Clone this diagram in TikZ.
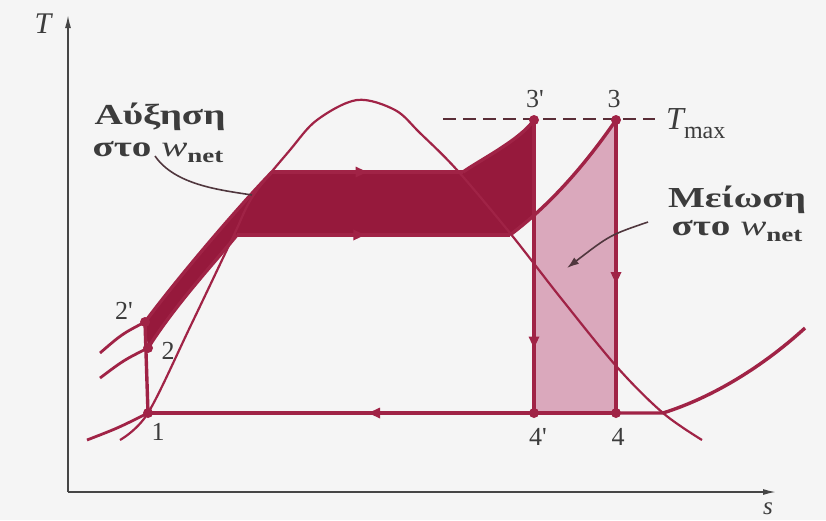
\documentclass[tikz,border=0pt]{standalone}
\usepackage{fontspec}
\setmainfont{Liberation Serif}
\usetikzlibrary{arrows.meta,decorations.markings}
\definecolor{bg}{RGB}{245,245,245}
\definecolor{cyc}{RGB}{160,35,70}
\definecolor{darkfill}{RGB}{150,25,60}
\definecolor{lightfill}{RGB}{218,168,188}
\definecolor{axiscol}{RGB}{70,70,70}
\definecolor{txt}{RGB}{60,60,60}
\definecolor{dashcol}{RGB}{90,45,55}
\tikzset{
  cycline/.style={draw=cyc, line width=3.4pt},
  domeline/.style={draw=cyc, line width=2.2pt},
  isoline/.style={draw=cyc, line width=2.8pt},
  midarrow/.style={postaction={decorate}, decoration={markings, mark=at position #1 with {\arrow{Triangle[length=12pt,width=10pt]}}}},
  ptdot/.style={circle, fill=cyc, inner sep=0pt, minimum size=10pt},
  numlbl/.style={text=txt, font=\fontsize{26}{26}\selectfont, inner sep=1pt},
  greek/.style={text=txt, font=\bfseries\fontsize{29}{29}\selectfont, inner sep=0pt},
  leader/.style={draw=txt!80!cyc, line width=1.6pt},
  axisline/.style={draw=axiscol, line width=1.6pt},
}
\newcommand{\wnet}{\textit{\mdseries w}\raisebox{-6pt}{\fontsize{20}{20}\selectfont net}}
\begin{document}
\begin{tikzpicture}[x=1pt,y=-1pt]
\fill[bg] (0,0) rectangle (826,520);
\useasboundingbox (0,0) rectangle (826,520);

% state points
\coordinate (p1) at (148,413);
\coordinate (p2) at (148,348);
\coordinate (p2p) at (145,322);
\coordinate (p3) at (616,120);
\coordinate (p3p) at (534,120);
\coordinate (p4) at (616,413);
\coordinate (p4p) at (534,413);
\coordinate (aL) at (237,235);
\coordinate (aR) at (510,235);
\coordinate (bL) at (272,172);
\coordinate (bR) at (463,172);
\coordinate (cE) at (663,413);
\coordinate (cF) at (805,328);

% dark region (increase of w_net)
\begin{scope}
\clip (0,0) rectangle (534,520);
\fill[darkfill] (p2) .. controls (175,305) and (215,262) .. (aL) -- (aR)
  .. controls (550,205) and (585,165) .. (p3) -- (p3p)
  .. controls (520,140) and (480,160) .. (bR) -- (bL)
  .. controls (240,205) and (180,275) .. (p2p) -- cycle;
\end{scope}
% light region (decrease of w_net)
\begin{scope}
\clip (534,0) rectangle (616,413);
\fill[lightfill] (aR) .. controls (550,205) and (585,165) .. (p3) -- (616,413) -- (510,413) -- cycle;
\end{scope}

% axes
\coordinate (O) at (68,492);
\coordinate (Ttip) at (68,15);
\coordinate (stip) at (776,492);
\draw[axisline,-{Latex[length=13pt,width=6pt]}] (O) -- (Ttip);
\draw[axisline,-{Latex[length=13pt,width=6pt]}] (O) -- (stip);
\node[text=txt, font=\itshape\fontsize{30}{30}\selectfont] (Tlab) at (43,24) {T};
\node[text=txt, font=\itshape\fontsize{25}{25}\selectfont] (slab) at (768,509) {s};

% saturation dome
\draw[domeline] plot[smooth, tension=0.55] coordinates {(120,440) (148,413) (191,325) (233,237) (253,196) (290,150) (317,120) (357,100) (395,110) (420,133) (457,170) (510,233) (560,297) (617,367) (663,413) (702,440)};

% isobar extensions (compressed liquid)
\draw[isoline] (100,353) .. controls (122,334) .. (p2p);
\draw[isoline] (100,378) .. controls (124,360) .. (p2);
\draw[isoline] (87,440) .. controls (118,428) .. (p1);

% cycle lines
\draw[cycline] (p1) -- (p2p);
\draw[cycline] (p2p) .. controls (180,275) and (240,205) .. (bL);
\draw[cycline, midarrow=0.5] (bL) -- (bR);
\draw[cycline] (bR) .. controls (480,160) and (520,140) .. (p3p);
\draw[cycline] (p2) .. controls (175,305) and (215,262) .. (aL);
\draw[cycline, midarrow=0.47] (aL) -- (aR);
\draw[cycline] (aR) .. controls (550,205) and (585,165) .. (p3);
\draw[cycline, midarrow=0.78] (p3p) -- (p4p);
\draw[cycline, midarrow=0.56] (p3) -- (p4);
\draw[cycline] (p4) -- (p4p);
\draw[cycline, midarrow=0.43] (p4p) -- (p1);
\draw[cycline] (p4) -- (cE) .. controls (720,395) and (770,360) .. (cF);

% T_max dashed line
\coordinate (dA) at (443,119);
\coordinate (dB) at (655,119);
\draw[draw=dashcol, line width=1.6pt, dash pattern=on 13pt off 7pt] (dA) -- (dB);
\node[text=txt, anchor=west, inner sep=0pt] (Tmax) at (666,124) {\fontsize{32}{32}\selectfont\itshape T\raisebox{-9pt}{\upshape\fontsize{24}{24}\selectfont max}};

% dots
\foreach \p in {p1,p2,p2p,p3,p3p,p4,p4p} \node[ptdot] (d\p) at (\p) {};

% point labels
\node[numlbl] (l1) at (158,432) {1};
\node[numlbl] (l2) at (168,351) {2};
\node[numlbl] (l2p) at (124,311) {2\textquotesingle};
\node[numlbl] (l3) at (614,99) {3};
\node[numlbl] (l3p) at (535,99) {3\textquotesingle};
\node[numlbl] (l4) at (618,437) {4};
\node[numlbl] (l4p) at (538,437) {4\textquotesingle};

% annotations
\node[greek] (inc1) at (160,117) {\scalebox{1.35}[1]{Αύξηση}};
\node[greek] (inc2) at (158,152) {\scalebox{1.35}[1]{στο \wnet}};
\node[greek] (dec1) at (737,200) {\scalebox{1.35}[1]{Μείωση}};
\node[greek] (dec2) at (737,231) {\scalebox{1.35}[1]{στο \wnet}};
\coordinate (incE) at (252,195);
\coordinate (incS) at (155,156);
\draw[leader] (incS) .. controls (175,185) and (220,190) .. (incE);
\coordinate (decS) at (648,222);
\coordinate (decE) at (567,268);
\draw[leader, -{Latex[length=12pt,width=8pt]}] (decS) .. controls (610,235) .. (decE);
\end{tikzpicture}
\end{document}
